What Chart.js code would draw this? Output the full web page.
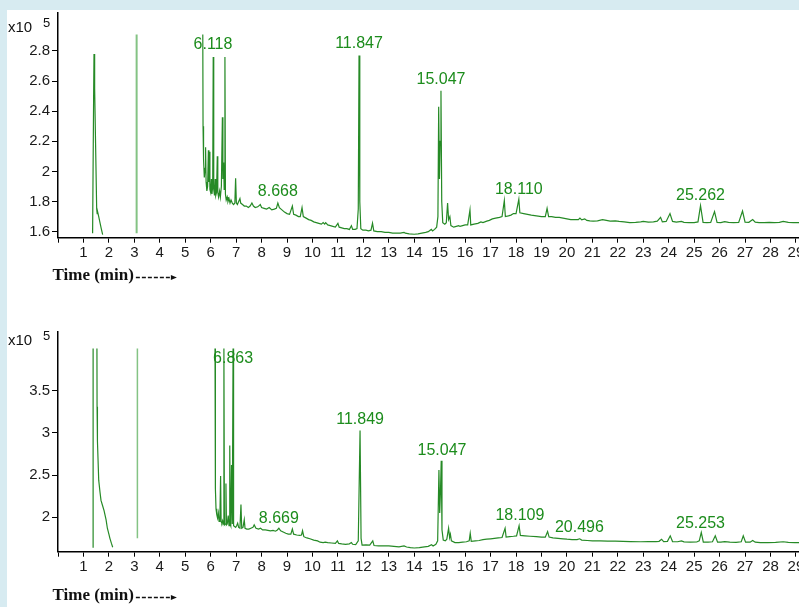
<!DOCTYPE html>
<html>
<head>
<meta charset="utf-8">
<title>GC chromatograms</title>
<script src="https://cdn.jsdelivr.net/npm/chart.js@4.4.1/dist/chart.umd.min.js"></script>
<style>
  html, body { margin: 0; padding: 0; }
  body { width: 799px; height: 607px; background: #d7ebf1; position: relative; overflow: hidden; }
  .panel { position: absolute; left: 7px; width: 792px; background: #fff; }
  #panelTop { top: 10px; height: 290px; }
  #panelBottom { top: 300px; height: 307px; }
  canvas { display: block; }
</style>
</head>
<body>
<div class="panel" id="panelTop"><canvas id="chartTop" width="792" height="290"></canvas></div>
<div class="panel" id="panelBottom"><canvas id="chartBottom" width="792" height="307"></canvas></div>
<script>
// retention time ticks (min), shared by both runs
let timeTicks = [0,1,2,3,4,5,6,7,8,9,10,11,12,13,14,15,16,17,18,19,20,21,22,23,24,25,26,27,28,29];

// ---------- run 1 (top), abundance x10^5 ----------
let topAbundanceTicks = [1.6, 1.8, 2, 2.2, 2.4, 2.6, 2.8];

let topFrontTime   = [1.36, 1.40, 1.415, 1.44, 1.48, 1.52, 1.54, 1.56, 1.60, 1.65, 1.70, 1.755];
let topFrontSignal = [1.59, 2.50, 2.78, 2.55, 2.15, 1.75, 1.72, 1.73, 1.70, 1.66, 1.62, 1.58];

let topMarkerTime   = [3.09, 3.09];
let topMarkerSignal = [1.59, 2.91];

let topMainTime = [
  5.69, 5.70, 5.72, 5.75, 5.78, 5.80, 5.82, 5.85, 5.88, 5.91,
  5.93, 5.95, 5.97, 6.00, 6.03, 6.05, 6.08, 6.10, 6.12, 6.15,
  6.18, 6.20, 6.23, 6.26, 6.28, 6.31, 6.35, 6.38, 6.42, 6.46,
  6.48, 6.51, 6.53, 6.56, 6.58, 6.61, 6.65, 6.68, 6.72, 6.76,
  6.80, 6.85, 6.90, 6.95, 6.98, 7.01, 7.05, 7.10, 7.15, 7.18,
  7.25, 7.32, 7.40, 7.48, 7.55, 7.62, 7.68, 7.75, 7.85, 7.95,
  8.00, 8.10, 8.20, 8.30, 8.40, 8.50, 8.58, 8.64, 8.70, 8.80,
  8.90, 9.00, 9.10, 9.21, 9.26, 9.35, 9.45, 9.52, 9.59, 9.64,
  9.75, 9.85, 9.95, 10.05, 10.15, 10.25, 10.35, 10.42, 10.48, 10.52,
  10.60, 10.70, 10.80, 10.90, 11.00, 11.05, 11.15, 11.25, 11.35, 11.45,
  11.53, 11.58, 11.68, 11.75, 11.80, 11.83, 11.86, 11.90, 11.98, 12.10,
  12.20, 12.30, 12.36, 12.41, 12.55, 12.70, 12.85, 13.00, 13.15, 13.30,
  13.45, 13.60, 13.65, 13.80, 14.00, 14.15, 14.30, 14.45, 14.55, 14.67,
  14.72, 14.80, 14.88, 14.93, 14.96, 14.99, 15.02, 15.05, 15.08, 15.12,
  15.20, 15.26, 15.31, 15.35, 15.40, 15.44, 15.55, 15.65, 15.75, 15.80,
  15.90, 16.00, 16.10, 16.19, 16.22, 16.35, 16.50, 16.62, 16.70, 16.85,
  16.95, 17.07, 17.20, 17.35, 17.45, 17.54, 17.58, 17.70, 17.80, 17.90,
  18.00, 18.11, 18.15, 18.30, 18.45, 18.60, 18.80, 19.00, 19.15, 19.22,
  19.28, 19.40, 19.55, 19.70, 19.85, 20.00, 20.15, 20.30, 20.45, 20.51,
  20.58, 20.70, 20.78, 20.90, 21.03, 21.20, 21.40, 21.55, 21.70, 21.90,
  22.05, 22.25, 22.47, 22.70, 22.90, 23.00, 23.20, 23.40, 23.55, 23.68,
  23.75, 23.90, 24.05, 24.15, 24.30, 24.50, 24.60, 24.80, 25.00, 25.15,
  25.25, 25.35, 25.50, 25.65, 25.80, 25.90, 26.05, 26.20, 26.35, 26.55,
  26.75, 26.90, 27.00, 27.15, 27.30, 27.40, 27.55, 27.75, 27.95, 28.15,
  28.35, 28.50, 28.70, 28.90, 29.12
];
let topMainSignal = [
  2.91, 2.30, 2.08, 1.96, 2.02, 2.16, 1.93, 1.87, 1.90, 2.14,
  1.93, 2.13, 1.88, 1.86, 1.95, 1.85, 1.90, 2.76, 1.88, 1.84,
  1.95, 1.84, 1.86, 2.10, 1.86, 1.83, 1.87, 1.83, 1.90, 2.36,
  1.95, 2.06, 1.88, 2.76, 1.85, 1.81, 1.83, 1.80, 1.82, 1.79,
  1.81, 1.79, 1.78, 1.79, 1.955, 1.79, 1.78, 1.80, 1.82, 1.79,
  1.78, 1.77, 1.77, 1.76, 1.77, 1.79, 1.77, 1.76, 1.765, 1.78,
  1.76, 1.755, 1.75, 1.76, 1.745, 1.75, 1.755, 1.79, 1.76, 1.745,
  1.73, 1.72, 1.715, 1.77, 1.715, 1.71, 1.70, 1.70, 1.76, 1.70,
  1.69, 1.68, 1.675, 1.665, 1.66, 1.655, 1.65, 1.66, 1.65, 1.66,
  1.645, 1.64, 1.635, 1.63, 1.655, 1.63, 1.625, 1.62, 1.62, 1.615,
  1.64, 1.615, 1.615, 1.62, 1.75, 2.77, 1.80, 1.62, 1.61, 1.61,
  1.605, 1.61, 1.656, 1.605, 1.60, 1.60, 1.595, 1.595, 1.59, 1.59,
  1.59, 1.595, 1.59, 1.585, 1.583, 1.585, 1.59, 1.595, 1.60, 1.615,
  1.605, 1.615, 1.63, 1.70, 2.43, 1.95, 2.20, 2.536, 1.80, 1.66,
  1.65, 1.66, 1.79, 1.68, 1.70, 1.64, 1.63, 1.635, 1.64, 1.635,
  1.64, 1.645, 1.645, 1.744, 1.645, 1.65, 1.655, 1.665, 1.66, 1.67,
  1.675, 1.685, 1.69, 1.695, 1.70, 1.806, 1.70, 1.705, 1.71, 1.72,
  1.72, 1.815, 1.725, 1.72, 1.715, 1.71, 1.705, 1.70, 1.70, 1.755,
  1.70, 1.70, 1.695, 1.695, 1.69, 1.685, 1.68, 1.68, 1.68, 1.69,
  1.678, 1.685, 1.675, 1.672, 1.67, 1.672, 1.68, 1.675, 1.67, 1.672,
  1.668, 1.665, 1.66, 1.662, 1.665, 1.668, 1.664, 1.665, 1.67, 1.695,
  1.665, 1.668, 1.72, 1.668, 1.663, 1.668, 1.662, 1.66, 1.66, 1.665,
  1.773, 1.662, 1.66, 1.662, 1.733, 1.662, 1.66, 1.667, 1.662, 1.66,
  1.662, 1.737, 1.663, 1.662, 1.68, 1.663, 1.66, 1.66, 1.662, 1.66,
  1.662, 1.668, 1.662, 1.66, 1.66
];

let topPeakNames = ["6.118", "8.668", "11.847", "15.047", "18.110", "25.262"];
let topPeakTime  = [6.09, 8.64, 11.83, 15.05, 18.11, 25.25];
let topPeakLevel = [2.84, 1.864, 2.85, 2.607, 1.88, 1.84];

// ---------- run 2 (bottom), abundance x10^5 ----------
let bottomAbundanceTicks = [2, 2.5, 3, 3.5];

let bottomSpikeTime   = [1.38, 1.38];
let bottomSpikeSignal = [1.64, 4.0];

let bottomFrontTime   = [1.53, 1.535, 1.55, 1.60, 1.65, 1.69, 1.75, 1.81, 1.89, 1.94, 2.00, 2.04, 2.10, 2.15];
let bottomFrontSignal = [4.0, 3.31, 2.90, 2.44, 2.30, 2.20, 2.14, 2.08, 1.97, 1.87, 1.80, 1.75, 1.69, 1.645];

let bottomMarkerTime   = [3.12, 3.12];
let bottomMarkerSignal = [1.75, 4.0];

let bottomMainTime = [
  6.17, 6.18, 6.19, 6.21, 6.24, 6.27, 6.30, 6.33, 6.36, 6.39,
  6.41, 6.44, 6.47, 6.50, 6.52, 6.54, 6.57, 6.60, 6.62, 6.65,
  6.69, 6.72, 6.75, 6.77, 6.79, 6.82, 6.85, 6.88, 6.90, 6.94,
  6.98, 7.02, 7.06, 7.10, 7.15, 7.19, 7.22, 7.27, 7.32, 7.35,
  7.42, 7.50, 7.58, 7.66, 7.71, 7.78, 7.88, 7.96, 8.04, 8.15,
  8.25, 8.35, 8.45, 8.55, 8.62, 8.68, 8.75, 8.85, 8.95, 9.05,
  9.15, 9.21, 9.26, 9.38, 9.50, 9.57, 9.61, 9.66, 9.78, 9.90,
  10.05, 10.20, 10.30, 10.42, 10.50, 10.60, 10.75, 10.90, 10.98, 11.03,
  11.15, 11.30, 11.45, 11.53, 11.58, 11.70, 11.80, 11.87, 11.91, 11.95,
  12.10, 12.25, 12.37, 12.42, 12.60, 12.80, 13.00, 13.20, 13.40, 13.60,
  13.70, 13.85, 14.00, 14.20, 14.40, 14.55, 14.68, 14.74, 14.85, 14.92,
  14.97, 15.00, 15.03, 15.06, 15.09, 15.14, 15.22, 15.28, 15.35, 15.39,
  15.42, 15.46, 15.60, 15.75, 15.90, 16.05, 16.16, 16.20, 16.24, 16.40,
  16.55, 16.70, 16.85, 17.00, 17.15, 17.30, 17.45, 17.57, 17.61, 17.75,
  17.90, 18.02, 18.12, 18.17, 18.35, 18.55, 18.80, 19.00, 19.15, 19.24,
  19.30, 19.45, 19.65, 19.85, 20.00, 20.20, 20.40, 20.50, 20.58, 20.80,
  21.00, 21.30, 21.60, 21.90, 22.20, 22.50, 22.90, 23.20, 23.50, 23.62,
  23.72, 23.80, 23.95, 24.06, 24.15, 24.35, 24.50, 24.60, 24.85, 25.10,
  25.20, 25.28, 25.36, 25.55, 25.72, 25.83, 25.92, 26.05, 26.20, 26.40,
  26.65, 26.85, 26.93, 27.02, 27.20, 27.30, 27.40, 27.60, 27.90, 28.20,
  28.50, 28.70, 28.95, 29.12
];
let bottomMainSignal = [
  4.0, 3.00, 2.34, 2.10, 2.03, 1.99, 2.05, 1.95, 1.97, 2.49,
  1.95, 1.93, 1.96, 1.92, 4.0, 1.91, 1.92, 2.40, 1.91, 1.92,
  2.02, 1.90, 2.85, 1.92, 1.90, 2.62, 1.92, 4.0, 1.90, 1.89,
  1.88, 1.90, 1.93, 1.88, 1.87, 2.15, 1.87, 1.88, 1.97, 1.87,
  1.86, 1.86, 1.87, 1.88, 1.91, 1.87, 1.86, 1.87, 1.85, 1.85,
  1.845, 1.84, 1.845, 1.835, 1.85, 1.87, 1.84, 1.825, 1.81, 1.80,
  1.80, 1.86, 1.80, 1.79, 1.785, 1.79, 1.84, 1.77, 1.755, 1.745,
  1.73, 1.72, 1.705, 1.70, 1.705, 1.70, 1.695, 1.69, 1.72, 1.69,
  1.685, 1.68, 1.685, 1.70, 1.68, 1.675, 1.72, 3.03, 1.75, 1.67,
  1.672, 1.67, 1.72, 1.665, 1.66, 1.66, 1.66, 1.655, 1.65, 1.66,
  1.648, 1.64, 1.636, 1.64, 1.65, 1.655, 1.675, 1.66, 1.68, 1.72,
  2.56, 2.05, 2.30, 2.67, 1.85, 1.73, 1.72, 1.74, 1.87, 1.76,
  1.80, 1.72, 1.70, 1.70, 1.705, 1.71, 1.72, 1.81, 1.715, 1.72,
  1.725, 1.735, 1.74, 1.745, 1.75, 1.755, 1.76, 1.87, 1.765, 1.77,
  1.775, 1.78, 1.90, 1.785, 1.78, 1.775, 1.77, 1.765, 1.765, 1.83,
  1.765, 1.755, 1.75, 1.745, 1.74, 1.735, 1.735, 1.745, 1.73, 1.725,
  1.72, 1.72, 1.717, 1.718, 1.715, 1.712, 1.71, 1.712, 1.712, 1.715,
  1.74, 1.712, 1.715, 1.78, 1.712, 1.71, 1.72, 1.708, 1.705, 1.707,
  1.72, 1.82, 1.706, 1.705, 1.71, 1.78, 1.706, 1.705, 1.712, 1.705,
  1.703, 1.71, 1.78, 1.706, 1.705, 1.725, 1.705, 1.70, 1.70, 1.702,
  1.71, 1.703, 1.70, 1.70
];

let bottomPeakNames = ["6.863", "8.669", "11.849", "15.047", "18.109", "20.496", "25.253"];
let bottomPeakTime  = [6.88, 8.68, 11.87, 15.09, 18.15, 20.49, 25.25];
let bottomPeakLevel = [3.887, 1.98, 3.159, 2.79, 2.02, 1.873, 1.93];


let traceGreen = "rgb(38,138,38)";
let labelGreen = "rgb(28,140,28)";
let sansFont = '"Liberation Sans", Arial, sans-serif';

// pair two arrays into {x, y} points
function toPoints(times, signals) {
  let pts = [];
  for (let i = 0; i < times.length; i++) {
    pts.push({x: times[i], y: signals[i]});
  }
  return pts;
}

function traceSet(times, signals, color, width) {
  return {
    data: toPoints(times, signals),
    borderColor: color,
    borderWidth: width,
    pointRadius: 0,
    tension: 0,
    fill: false
  };
}

// draws peak labels, the x10^5 factor and the time axis title
let panelText = {
  id: "panelText",
  afterDraw(chart, args, opts) {
    let ctx = chart.ctx;
    let xs = chart.scales.x;
    let ys = chart.scales.y;
    ctx.save();

    ctx.font = "16px " + sansFont;
    ctx.fillStyle = labelGreen;
    ctx.textAlign = "center";
    ctx.textBaseline = "middle";
    for (let i = 0; i < opts.names.length; i++) {
      ctx.fillText(opts.names[i], xs.getPixelForValue(opts.times[i]), ys.getPixelForValue(opts.levels[i]));
    }

    ctx.fillStyle = "#111";
    ctx.textAlign = "left";
    ctx.textBaseline = "alphabetic";
    ctx.font = "15px " + sansFont;
    ctx.fillText("x10", 1, opts.factorY);
    ctx.font = "13px " + sansFont;
    ctx.fillText("5", 36, opts.factorY - 5);

    // "Time (min)------>" under the axis
    ctx.font = 'bold 17px "Liberation Serif", "Times New Roman", serif';
    ctx.fillText("Time (min)", 45.5, opts.titleY);
    let x0 = 45.5 + ctx.measureText("Time (min)").width + 2;
    let y0 = opts.titleY - 2.5;
    ctx.strokeStyle = "#111";
    ctx.lineWidth = 1.3;
    ctx.setLineDash([4, 2]);
    ctx.beginPath();
    ctx.moveTo(x0, y0);
    ctx.lineTo(x0 + 35, y0);
    ctx.stroke();
    ctx.beginPath();
    ctx.moveTo(x0 + 35, y0 - 2.5);
    ctx.lineTo(x0 + 41, y0);
    ctx.lineTo(x0 + 35, y0 + 2.5);
    ctx.closePath();
    ctx.fill();

    ctx.restore();
  }
};

function makeChart(canvasId, datasets, yMin, yMax, yTicks, pad, text) {
  let ctx = document.getElementById(canvasId).getContext("2d");
  return new Chart(ctx, {
    type: "line",
    data: {datasets: datasets},
    plugins: [panelText],
    options: {
      responsive: false,
      animation: false,
      devicePixelRatio: 1,
      layout: {padding: pad},
      plugins: {
        legend: {display: false},
        tooltip: {enabled: false},
        panelText: text
      },
      scales: {
        x: {
          type: "linear",
          min: 0,
          max: 29.12,
          afterBuildTicks: function (s) { s.ticks = timeTicks.map(v => ({value: v})); },
          afterFit: function (s) { s.height = 30; s.paddingLeft = 0; s.paddingRight = 0; },
          ticks: {
            autoSkip: false,
            maxRotation: 0,
            padding: 1,
            color: "#1a1a1a",
            font: {family: sansFont, size: 15},
            callback: v => (v === 0 ? "" : String(v))
          },
          grid: {drawOnChartArea: false, tickLength: 5, color: "#000", lineWidth: 1},
          border: {color: "#000", width: 1.5}
        },
        y: {
          type: "linear",
          min: yMin,
          max: yMax,
          afterBuildTicks: function (s) { s.ticks = yTicks.map(v => ({value: v})); },
          afterFit: function (s) { s.width = 51; s.paddingTop = 0; s.paddingBottom = 0; },
          ticks: {
            padding: 2,
            color: "#1a1a1a",
            font: {family: sansFont, size: 15},
            callback: v => String(v)
          },
          grid: {drawOnChartArea: false, tickLength: 6, color: "#000", lineWidth: 1},
          border: {color: "#000", width: 1.5}
        }
      }
    }
  });
}

let markerGreen = "rgba(110,185,110,0.85)";

let chartTop = makeChart("chartTop", [
  traceSet(topMarkerTime, topMarkerSignal, markerGreen, 2),
  traceSet(topFrontTime, topFrontSignal, traceGreen, 1.2),
  traceSet(topMainTime, topMainSignal, traceGreen, 1.2)
], 1.56, 3.052, topAbundanceTicks, {left: 0, top: 3, right: 0, bottom: 32.3},
  {names: topPeakNames, times: topPeakTime, levels: topPeakLevel, factorY: 21.5, titleY: 270});

let chartBottom = makeChart("chartBottom", [
  traceSet(bottomMarkerTime, bottomMarkerSignal, markerGreen, 1.5),
  traceSet(bottomSpikeTime, bottomSpikeSignal, traceGreen, 1.2),
  traceSet(bottomFrontTime, bottomFrontSignal, traceGreen, 1.2),
  traceSet(bottomMainTime, bottomMainSignal, traceGreen, 1.2)
], 1.592, 4.2, bottomAbundanceTicks, {left: 0, top: 31.7, right: 0, bottom: 25.3},
  {names: bottomPeakNames, times: bottomPeakTime, levels: bottomPeakLevel, factorY: 45, titleY: 300});
</script>
</body>
</html>
